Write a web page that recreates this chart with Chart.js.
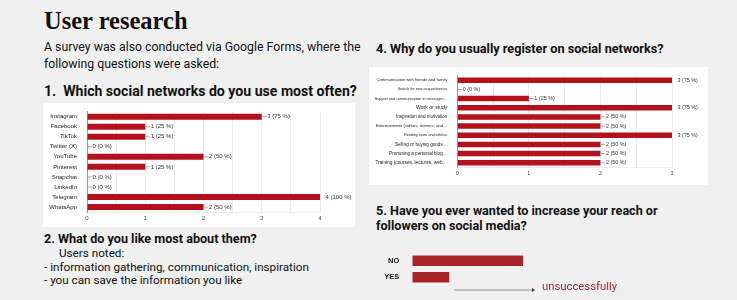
<!DOCTYPE html>
<html lang="en">
<head>
    <meta charset="UTF-8">
    <title>User research</title>
    <style>
        body{
            margin: 0;
            background-color: #f0f0f0;
            width: 737px;
            height: 300px;
            overflow: hidden;
            position: relative;
            font-family: Roboto, "Liberation Sans", sans-serif;
            color: #111;
        }
        .t{ position: absolute; white-space: nowrap; }
        .panel{ position: absolute; background: #fff; }
        canvas{ position: absolute; }
    </style>
</head>
<body>
    <div class="t" style="left:44px;top:7.2px;font-family:'Liberation Serif',serif;font-weight:bold;font-size:24.5px;line-height:27px;">User research</div>
    <div class="t" style="left:44px;top:39.4px;font-size:12.3px;line-height:16.3px;">A survey was also conducted via Google Forms, where the<br>following questions were asked:</div>
    <div class="t" style="left:44px;top:82.9px;font-size:14.1px;line-height:16px;font-weight:bold;">1.&nbsp; Which social networks do you use most often?</div>

    <div class="panel" style="left:43px;top:103px;width:312px;height:124px;"></div>
    <canvas id="chartNetworks" width="312" height="124" style="left:43px;top:103px;"></canvas>

    <div class="t" style="left:44px;top:230.9px;font-size:12.6px;line-height:15px;font-weight:bold;">2. What do you like most about them?</div>
    <div class="t" style="left:59px;top:246.3px;font-size:11.7px;line-height:14px;">Users noted:</div>
    <div class="t" style="left:44px;top:260.7px;font-size:11.7px;line-height:13.3px;">- information gathering, communication, inspiration<br>- you can save the information you like</div>

    <div class="t" style="left:376px;top:40.9px;font-size:12.7px;line-height:15px;font-weight:bold;">4. Why do you usually register on social networks?</div>
    <div class="panel" style="left:369px;top:67px;width:339px;height:118px;"></div>
    <canvas id="chartReasons" width="339" height="118" style="left:369px;top:67px;"></canvas>

    <div class="t" style="left:376px;top:202.5px;font-size:12.6px;line-height:15px;font-weight:bold;">5. Have you ever wanted to increase your reach or<br>followers on social media?</div>
    <canvas id="chartReach" width="175" height="52" style="left:385px;top:243px;"></canvas>
    <svg style="position:absolute;left:450px;top:285px;" width="90" height="10">
        <line x1="4" y1="5" x2="82" y2="5" stroke="#8a8a8a" stroke-width="1.2"/>
        <path d="M82 3 L85 5 L82 7 Z" fill="#333"/>
    </svg>
    <div class="t" style="left:542px;top:280.1px;font-size:11.3px;line-height:14px;color:#a5282c;">unsuccessfully</div>

    <script src="https://cdn.jsdelivr.net/npm/chart.js"></script>
    <script>
        const respondents = 4

        const networks = ['Instagram', 'Facebook', 'TikTok', 'Twitter (X)', 'YouTube', 'Pinterest', 'Snapchat', 'LinkedIn', 'Telegram', 'WhatsApp']
        const networkVotes = [3, 1, 1, 0, 2, 1, 0, 0, 4, 2]

        const reasons = [
            'Communication with friends and family',
            'Search for new acquaintances',
            'Support and communication in messages…',
            'Work or study',
            'Inspiration and motivation',
            'Entertainment (videos, memes, and…',
            'Reading news and articles',
            'Selling or buying goods…',
            'Promoting a personal blog…',
            'Training (courses, lectures, web…'
        ]
        const reasonVotes = [3, 0, 1, 3, 2, 2, 3, 2, 2, 2]

        const reachAnswers = ['NO', 'YES']
        const reachVotes = [3, 1]

        // label font sizes for the second chart (google shrinks the long ones)
        const reasonFontSizes = [4.15, 3.7, 3.75, 5.1, 4.5, 4.25, 3.7, 4.6, 4.6, 4.75]

        const barRed = '#b3121d'

        // "3 (75 %)" next to each bar, with the little connector line
        const valueLabels = {
            id: 'valueLabels',
            afterDatasetsDraw(chart, args, opts) {
                const ctx = chart.ctx
                const max = chart.scales.x.max
                const meta = chart.getDatasetMeta(0)
                const values = chart.data.datasets[0].data
                ctx.save()
                ctx.font = opts.size + 'px "Liberation Sans", Arial, sans-serif'
                ctx.textBaseline = 'middle'
                ctx.fillStyle = '#333'
                meta.data.forEach((bar, i) => {
                    const v = values[i]
                    const txt = v + ' (' + Math.round(v / respondents * 100) + ' %)'
                    if (v < max) {
                        ctx.strokeStyle = '#999'
                        ctx.lineWidth = 0.8
                        ctx.beginPath()
                        ctx.moveTo(bar.x, bar.y)
                        ctx.lineTo(bar.x + 5, bar.y)
                        ctx.stroke()
                    }
                    ctx.fillText(txt, bar.x + 5.5, bar.y)
                })
                ctx.restore()
            }
        }

        function formsChart(canvas, labels, values, opts) {
            return new Chart(canvas, {
                type: 'bar',
                data: {
                    labels: labels,
                    datasets: [{
                        data: values,
                        backgroundColor: barRed,
                        borderSkipped: false,
                        barPercentage: opts.barPct,
                        categoryPercentage: 1
                    }]
                },
                options: {
                    indexAxis: 'y',
                    responsive: false,
                    animation: false,
                    layout: { padding: opts.padding },
                    plugins: {
                        legend: { display: false },
                        tooltip: { enabled: false },
                        valueLabels: { size: opts.labelSize }
                    },
                    scales: {
                        x: {
                            min: 0,
                            max: opts.max,
                            afterFit: s => { s.height = opts.xHeight },
                            ticks: {
                                stepSize: 0.5,
                                autoSkip: false,
                                maxRotation: 0,
                                padding: 3,
                                color: '#444',
                                font: { family: '"Liberation Sans", Arial', size: opts.labelSize },
                                callback: v => Number.isInteger(v) ? v : ''
                            },
                            grid: { color: '#ececec', drawTicks: false },
                            border: { color: '#ececec' }
                        },
                        y: {
                            afterFit: s => { s.width = opts.yWidth },
                            ticks: {
                                autoSkip: false,
                                padding: 2,
                                color: '#222',
                                font: opts.yFont
                            },
                            grid: { display: false },
                            border: { color: '#999' }
                        }
                    }
                },
                plugins: [valueLabels]
            })
        }

        formsChart(document.querySelector('#chartNetworks'), networks, networkVotes, {
            max: 4,
            barPct: 0.6,
            labelSize: 6,
            padding: { top: 8.7, right: 35, left: 0, bottom: 0 },
            xHeight: 15,
            yWidth: 44,
            yFont: { family: '"Liberation Sans", Arial', size: 6 }
        })

        formsChart(document.querySelector('#chartReasons'), reasons, reasonVotes, {
            max: 3,
            barPct: 0.6,
            labelSize: 5.4,
            padding: { top: 8.7, right: 36, left: 0, bottom: 0 },
            xHeight: 17.7,
            yWidth: 88.3,
            yFont: c => ({ family: '"Liberation Sans", Arial', size: reasonFontSizes[c.index] })
        })

        new Chart(document.querySelector('#chartReach'), {
            type: 'bar',
            data: {
                labels: reachAnswers,
                datasets: [{
                    data: reachVotes,
                    backgroundColor: '#a62628',
                    barPercentage: 0.625,
                    categoryPercentage: 1
                }]
            },
            options: {
                indexAxis: 'y',
                responsive: false,
                animation: false,
                layout: { padding: { top: 3.5, right: 0, left: 0, bottom: 0.5 } },
                plugins: { legend: { display: false }, tooltip: { enabled: false } },
                scales: {
                    x: { display: false, min: 0, max: 4 },
                    y: {
                        afterFit: s => { s.width = 27.3 },
                        ticks: {
                            padding: 5,
                            color: '#111',
                            font: { family: '"Liberation Sans", Arial', size: 7.5, weight: 'bold' }
                        },
                        grid: { display: false },
                        border: { display: false }
                    }
                }
            }
        })
    </script>
</body>
</html>
